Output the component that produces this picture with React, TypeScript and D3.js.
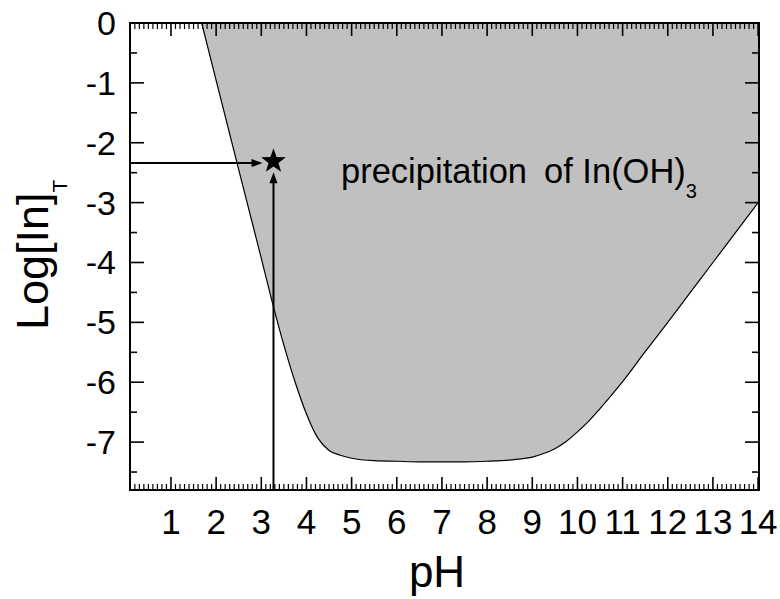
import React from 'react';
import * as d3 from 'd3';

// Boundary of In(OH)3 precipitation region
const pHValues = [1.68, 2.0, 2.5, 3.0, 3.27, 3.5, 3.75, 4.0, 4.25, 4.5, 4.75, 5.0, 5.5, 6.0, 6.5, 7.0, 7.5, 8.0, 8.5, 8.75, 9.0, 9.25, 9.5, 9.75, 10.0, 10.25, 10.5, 10.75, 11.0, 11.5, 12.0, 12.5, 13.0, 13.5, 14.0];
const logInValues = [0, -0.96, -2.45, -3.93, -4.74, -5.38, -6.0, -6.53, -6.93, -7.14, -7.22, -7.27, -7.31, -7.32, -7.33, -7.33, -7.33, -7.32, -7.3, -7.28, -7.25, -7.19, -7.11, -6.99, -6.83, -6.65, -6.44, -6.22, -5.99, -5.49, -5.0, -4.5, -4.0, -3.5, -3.0];

const xTickValues = [1, 2, 3, 4, 5, 6, 7, 8, 9, 10, 11, 12, 13, 14];
const yTickValues = [0, -1, -2, -3, -4, -5, -6, -7];
const starPoint = [3.27, -2.31];
const arrowLevel = -2.34;

const FONT = "'Liberation Sans', Arial, Helvetica, sans-serif";

export default function App() {
  const W = 780, H = 599;
  const left = 130, right = 759, top = 23, bottom = 490;
  const x = d3.scaleLinear().domain([0.093, 14.02]).range([left, right]);
  const y = d3.scaleLinear().domain([0, -7.8]).range([top, bottom]);

  const data: [number, number][] = pHValues.map((p, i) => [p, logInValues[i]]);
  const area = d3.area<[number, number]>()
    .x(d => x(d[0]))
    .y0(() => y(0))
    .y1(d => y(d[1]))
    .curve(d3.curveMonotoneX);
  const line = d3.line<[number, number]>()
    .x(d => x(d[0]))
    .y(d => y(d[1]))
    .curve(d3.curveMonotoneX);

  const xMinor = d3.range(1, 141).map(i => i / 10).filter(v => Math.abs(v - Math.round(v)) > 1e-6);
  const yMinor = d3.range(-15, 0).map(i => i / 2).filter(v => Math.abs(v - Math.round(v)) > 1e-6);

  // star
  const sx = x(starPoint[0]), sy = y(starPoint[1]);
  const R = 13, r = 5.2;
  const starPts: string[] = [];
  for (let k = 0; k < 10; k++) {
    const rad = k % 2 === 0 ? R : r;
    const a = -Math.PI / 2 + (k * Math.PI) / 5;
    starPts.push(`${sx + rad * Math.cos(a)},${sy + rad * Math.sin(a)}`);
  }

  const ay = y(arrowLevel);
  const hTip = sx - 11;
  const vTip = sy + 11;
  const hl = 11, hw = 4;

  return (
    <svg width={W} height={H} style={{ position: 'absolute', left: 0, top: 0, background: '#fff' }} fontFamily={FONT}>
      <rect x={0} y={0} width={W} height={H} fill="#fff" />
      <defs>
        <clipPath id="plotclip">
          <rect x={left} y={top} width={right - left} height={bottom - top} />
        </clipPath>
      </defs>
      <g clipPath="url(#plotclip)">
        <path d={area(data) || ''} fill="#c0c0c0" />
        <path d={line(data) || ''} fill="none" stroke="#000" strokeWidth={1.2} />
      </g>

      {/* ticks */}
      {xTickValues.map(v => (
        <g key={'xt' + v}>
          <line x1={x(v)} x2={x(v)} y1={bottom} y2={bottom - 13} stroke="#000" strokeWidth={1.6} />
          <line x1={x(v)} x2={x(v)} y1={top} y2={top + 13} stroke="#000" strokeWidth={1.6} />
        </g>
      ))}
      {xMinor.map(v => (
        <g key={'xm' + v}>
          <line x1={x(v)} x2={x(v)} y1={bottom} y2={bottom - 6} stroke="#000" strokeWidth={1.2} />
          <line x1={x(v)} x2={x(v)} y1={top} y2={top + 6} stroke="#000" strokeWidth={1.2} />
        </g>
      ))}
      {yTickValues.map(v => (
        <g key={'yt' + v}>
          <line x1={left} x2={left + 14} y1={y(v)} y2={y(v)} stroke="#000" strokeWidth={1.6} />
          <line x1={right} x2={right - 14} y1={y(v)} y2={y(v)} stroke="#000" strokeWidth={1.6} />
        </g>
      ))}
      {yMinor.map(v => (
        <g key={'ym' + v}>
          <line x1={left} x2={left + 7} y1={y(v)} y2={y(v)} stroke="#000" strokeWidth={1.6} />
          <line x1={right} x2={right - 7} y1={y(v)} y2={y(v)} stroke="#000" strokeWidth={1.6} />
        </g>
      ))}

      <rect x={left} y={top} width={right - left} height={bottom - top} fill="none" stroke="#000" strokeWidth={2} />

      {/* tick labels */}
      {xTickValues.map(v => (
        <text key={'xl' + v} x={x(v)} y={534} textAnchor="middle" fontSize={35} fill="#000">{v}</text>
      ))}
      {yTickValues.map(v => (
        <text key={'yl' + v} x={116} y={y(v) + 12} textAnchor="end" fontSize={34} fill="#000">{v === 0 ? '0' : String(v)}</text>
      ))}

      {/* axis titles */}
      <text x={437} y={587} textAnchor="middle" fontSize={44} fill="#000">pH</text>
      <text transform="translate(48,330) rotate(-90)" fontSize={45} fill="#000">
        Log[In]<tspan fontSize={21} dy={19}>T</tspan>
      </text>

      {/* arrows */}
      <line x1={left} x2={hTip - hl + 1} y1={ay} y2={ay} stroke="#000" strokeWidth={2} />
      <polygon points={`${hTip},${ay} ${hTip - hl},${ay - hw} ${hTip - hl},${ay + hw}`} fill="#000" />
      <line x1={sx} x2={sx} y1={bottom} y2={vTip + hl - 1} stroke="#000" strokeWidth={2} />
      <polygon points={`${sx},${vTip} ${sx - hw},${vTip + hl} ${sx + hw},${vTip + hl}`} fill="#000" />
      <polygon points={starPts.join(' ')} fill="#000" />

      {/* annotation */}
      <text y={183} fontSize={34.5} fill="#000">
        <tspan x={341}>precipitation</tspan>
        <tspan x={544}>of In(OH)</tspan>
        <tspan fontSize={20} dy={15}>3</tspan>
      </text>
    </svg>
  );
}
